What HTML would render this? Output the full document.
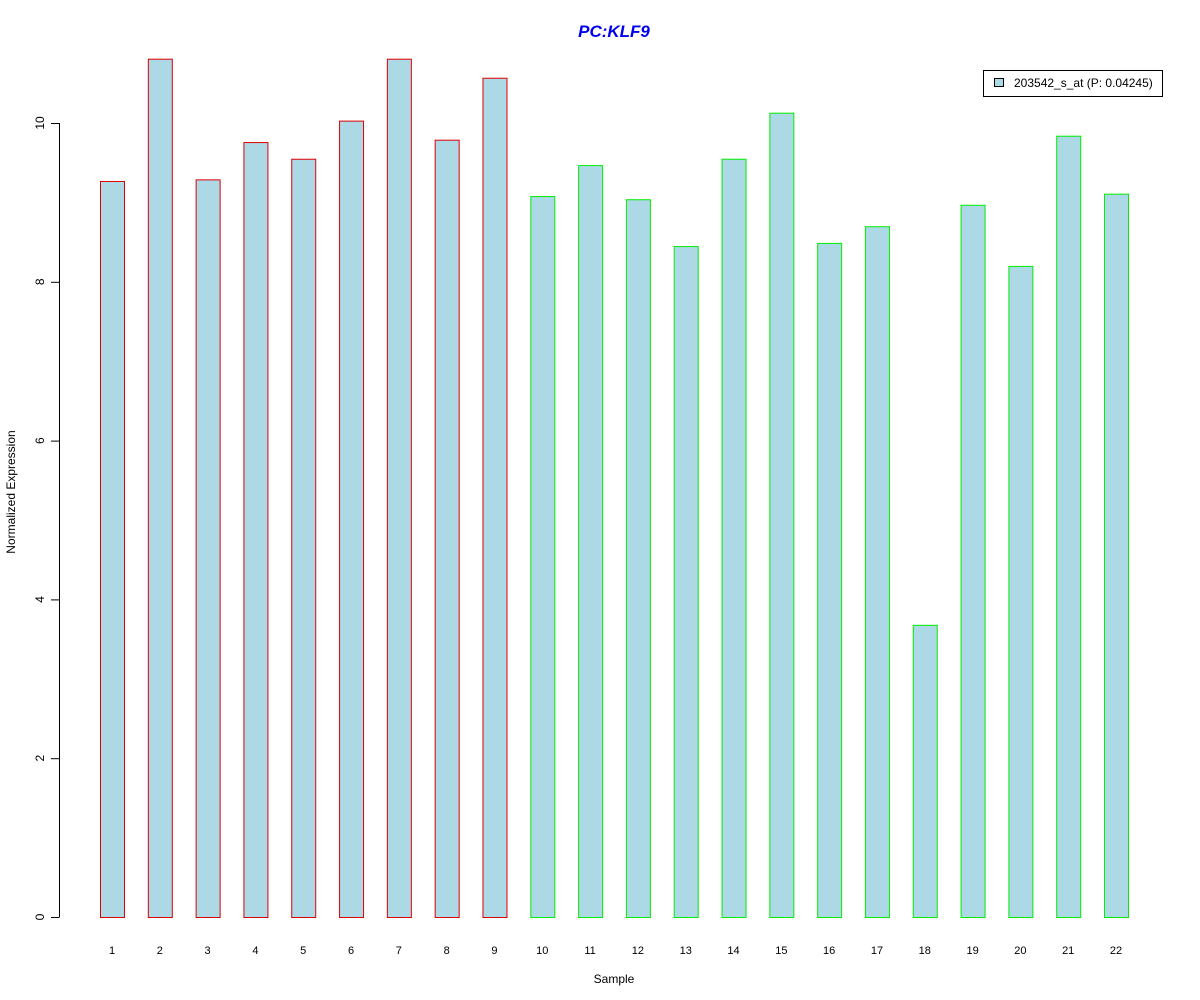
<!DOCTYPE html>
<html><head><meta charset="utf-8"><style>body{margin:0;background:#fff}svg{display:block;font-family:"Liberation Sans",Arial,sans-serif}</style></head>
<body>
<svg id="chart" width="1200" height="1000" xmlns="http://www.w3.org/2000/svg">
<text x="614" y="37" text-anchor="middle" font-size="17" font-weight="bold" font-style="italic" fill="#0000ee">PC:KLF9</text>
<text x="614" y="983" text-anchor="middle" font-size="12">Sample</text>
<text transform="translate(15,492) rotate(-90)" text-anchor="middle" font-size="12">Normalized Expression</text>
<g id="yaxis"></g>
<g id="bars"></g>
<g id="xlabels"></g>
<g>
<rect x="983.5" y="70.5" width="179" height="26" fill="#fff" stroke="#000"/>
<rect x="994.5" y="78.5" width="9" height="8" fill="#add8e6" stroke="#000"/>
<text x="1014" y="87" font-size="12">203542_s_at (P: 0.04245)</text>
</g>
</svg>
<script>
const categories = ["1","2","3","4","5","6","7","8","9","10","11","12","13","14","15","16","17","18","19","20","21","22"];
const values = [9.27,10.81,9.29,9.76,9.55,10.03,10.81,9.79,10.57,9.08,9.47,9.04,8.45,9.55,10.13,8.49,8.70,3.68,8.97,8.20,9.84,9.11];
const groups = ["a","a","a","a","a","a","a","a","a","b","b","b","b","b","b","b","b","b","b","b","b","b"];
const yTicks = [0,2,4,6,8,10];
const NS="http://www.w3.org/2000/svg";
const y = v => 917 - v*79.4;
const x = i => 100 + i*47.81;
const mk=(t,a,p)=>{const e=document.createElementNS(NS,t);for(const k in a)e.setAttribute(k,a[k]);p.appendChild(e);return e;};
const ya=document.getElementById('yaxis');
mk('line',{x1:59.5,x2:59.5,y1:y(10),y2:y(0),stroke:'#000'},ya);
yTicks.forEach(t=>{
  mk('line',{x1:51,x2:59.5,y1:y(t)+0.5,y2:y(t)+0.5,stroke:'#000'},ya);
  const tx=mk('text',{transform:`translate(44,${y(t)}) rotate(-90)`,'text-anchor':'middle','font-size':12},ya);
  tx.textContent=t;
  
  
});
const bg=document.getElementById('bars'), xl=document.getElementById('xlabels');
values.forEach((v,i)=>{
  const r=mk('rect',{x:x(i)+0.5,y:y(v)+0.5,width:24,height:y(0)-y(v),fill:'#add8e6',stroke:groups[i]==='a'?'#dd0000':'#00ee00'},bg);
  
  
  const t=mk('text',{x:x(i)+12,y:954,'text-anchor':'middle','font-size':11},xl);
  t.textContent=categories[i];
  
  
});
</script>
</body></html>
